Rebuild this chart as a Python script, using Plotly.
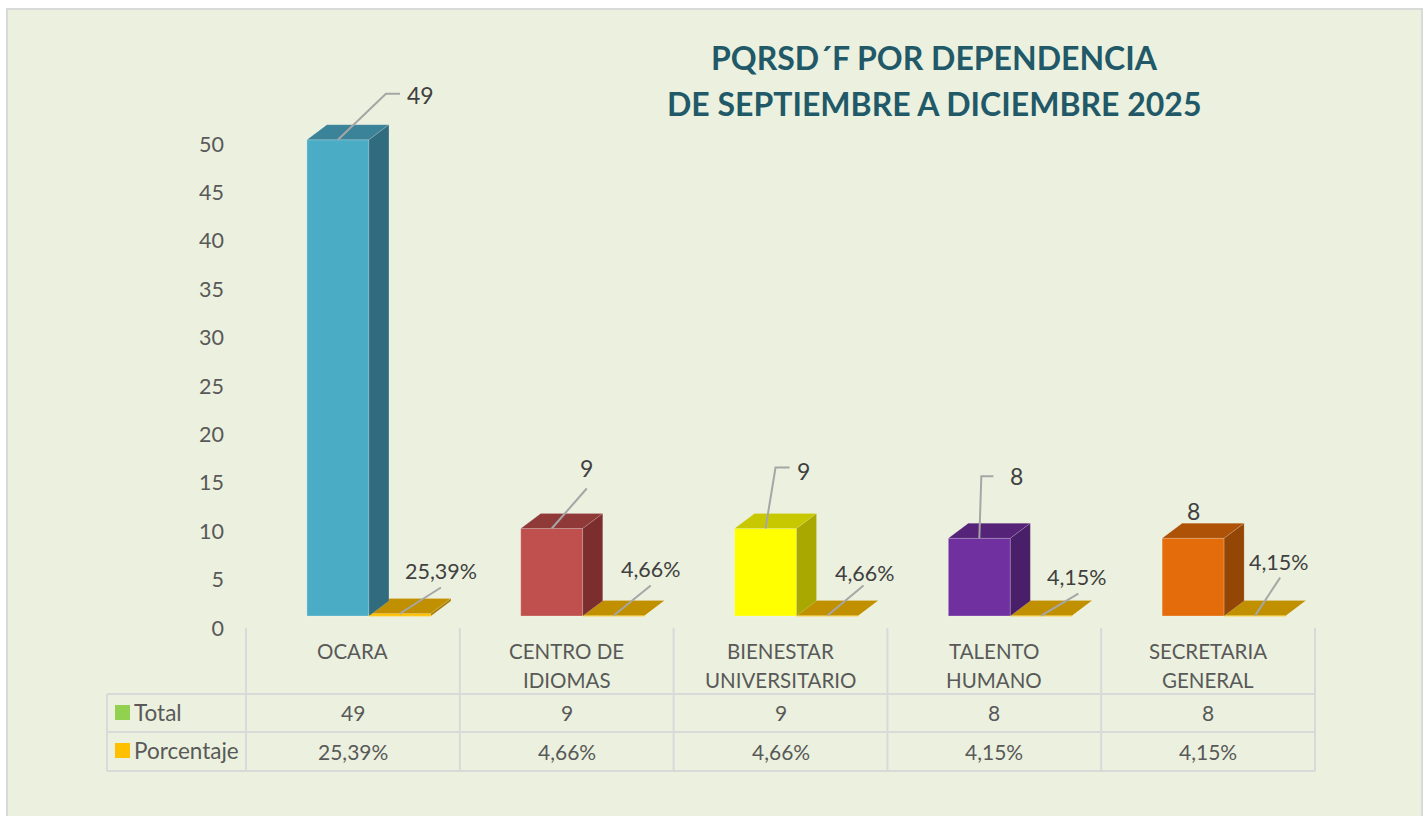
import plotly.graph_objects as go

# Data
categories = ['OCARA', 'CENTRO DE<br>IDIOMAS', 'BIENESTAR<br>UNIVERSITARIO', 'TALENTO<br>HUMANO', 'SECRETARIA<br>GENERAL']
total = [49, 9, 9, 8, 8]
porcentaje = [0.2539, 0.0466, 0.0466, 0.0415, 0.0415]
porcentaje_labels = ['25,39%', '4,66%', '4,66%', '4,15%', '4,15%']
y_ticks = [0, 5, 10, 15, 20, 25, 30, 35, 40, 45, 50]

# Colours: front, top, side
total_colors = [
    ('#4bacc6', '#3a8399', '#316b7e'),
    ('#c0504d', '#8f3a38', '#7b2e2d'),
    ('#ffff00', '#c8c800', '#a8a800'),
    ('#7030a0', '#552478', '#4a1f6a'),
    ('#e46c0a', '#ae5208', '#944606'),
]
gold = ('#ffc000', '#c09000', '#a57c00')

# Page geometry (pixels)
W, H = 1428, 816
CAT_W = 213.8     # pixels per category
X0 = 246          # left edge of first category
UNIT = 9.72       # pixels per value unit for the bars
BASE = 616        # pixel row of the bar base
DEPTH_X, DEPTH_Y = 20 / CAT_W, 15 / UNIT
BAR_W = 62 / CAT_W
TOTAL_OFF, PCT_OFF = 0.43, 0.72

TEXT = '#595959'
LABEL = '#404040'
GRID = '#d9d9d9'
LEADER = '#a6a6a6'
FONT = 'Lato'

# Data label placement, pixels from the top centre of each bar
total_label_shift = [(83, 45), (35, 61), (38, 58), (37, 62), (0, 27)]
pct_label_shift = [(41, 43), (37, 47), (37, 43), (36, 39), (24, 54)]
total_leaders = [[(0, 0), (48, 46), (62, 46)], [(0, 0), (35, 40)], [(0, 0), (10, 61), (24, 61)], [(0, 0), (2, 62), (14, 62)], []]
pct_leaders = [[(0, 0), (41, 26)], [(0, 0), (37, 30)], [(0, 0), (36, 30)], [(0, 0), (37, 22)], [(0, 0), (25, 38)]]

fig = go.Figure()


def add_poly(xs, ys, color):
    fig.add_trace(go.Scatter(x=xs, y=ys, mode='lines', fill='toself', fillcolor=color,
                             line=dict(color='rgba(255,255,255,0.15)', width=1),
                             hoverinfo='skip', showlegend=False))


def add_box_faces(left, value, colors):
    right = left + BAR_W
    add_poly([left, right, right + DEPTH_X, left + DEPTH_X, left],
             [value, value, value + DEPTH_Y, value + DEPTH_Y, value], colors[1])
    add_poly([right, right + DEPTH_X, right + DEPTH_X, right, right],
             [0, DEPTH_Y, value + DEPTH_Y, value, 0], colors[2])


def add_leader(x, y, points):
    if not points:
        return
    fig.add_trace(go.Scatter(x=[x + p[0] / CAT_W for p in points], y=[y + p[1] / UNIT for p in points],
                             mode='lines', line=dict(color=LEADER, width=2),
                             hoverinfo='skip', showlegend=False))


def add_text(x, y, text, size=21, color=TEXT, xanchor='center', xshift=0, yshift=0, bold=False, xref='x', yref='paper'):
    fig.add_annotation(x=x, y=y, text='<b>%s</b>' % text if bold else text, xref=xref, yref=yref,
                       showarrow=False, xanchor=xanchor, yanchor='middle', xshift=xshift, yshift=yshift,
                       font=dict(family=FONT, size=size, color=color))


def row(px):
    return 1 - px / H


# Front faces
fig.add_trace(go.Bar(x=[i + TOTAL_OFF for i in range(5)], y=total, width=BAR_W,
                     marker=dict(color=[c[0] for c in total_colors],
                                 line=dict(color='rgba(255,255,255,0.25)', width=1)),
                     hoverinfo='skip', showlegend=False))
fig.add_trace(go.Bar(x=[i + PCT_OFF for i in range(5)], y=porcentaje, width=BAR_W,
                     marker=dict(color=gold[0], line=dict(color='rgba(255,210,60,0.9)', width=1)),
                     hoverinfo='skip', showlegend=False))

# Top and side faces, small series first so the tall sides stay on top
for i, v in enumerate(porcentaje):
    add_box_faces(i + PCT_OFF - BAR_W / 2, v, gold)
for i, v in enumerate(total):
    add_box_faces(i + TOTAL_OFF - BAR_W / 2, v, total_colors[i])

# Leader lines and data labels
for i in range(5):
    add_leader(i + TOTAL_OFF, total[i], total_leaders[i])
    add_leader(i + PCT_OFF, porcentaje[i], pct_leaders[i])
    add_text(i + TOTAL_OFF, total[i], str(total[i]), size=23, color=LABEL, yref='y',
             xshift=total_label_shift[i][0], yshift=total_label_shift[i][1])
    add_text(i + PCT_OFF, porcentaje[i], porcentaje_labels[i], size=21.5, color=LABEL, yref='y',
             xshift=pct_label_shift[i][0], yshift=pct_label_shift[i][1])

# Invisible trace that keeps the value axis alive (labels sit lower than the bars' scale)
fig.add_trace(go.Scatter(x=[0, 0], y=[y_ticks[0], y_ticks[-1]], yaxis='y2', mode='lines',
                         line=dict(color='rgba(0,0,0,0)'), hoverinfo='skip', showlegend=False))

# Data table under the chart
for i in range(6):
    fig.add_shape(type='line', xref='x', yref='paper', x0=i, x1=i, y0=row(628), y1=row(771),
                  line=dict(color=GRID, width=2))
for px in (694, 732, 771):
    fig.add_shape(type='line', xref='paper', yref='paper', x0=107 / W, x1=1315 / W, y0=row(px), y1=row(px),
                  line=dict(color=GRID, width=2))
fig.add_shape(type='line', xref='paper', yref='paper', x0=107 / W, x1=107 / W, y0=row(694), y1=row(771),
              line=dict(color=GRID, width=2))

for i, cat in enumerate(categories):
    lines = cat.split('<br>')
    for j, line in enumerate(lines):
        add_text(i + 0.5, row(650.5 + 29 * j), line, size=20.5)
    add_text(i + 0.5, row(712.5), str(total[i]))
    add_text(i + 0.5, row(751.5), porcentaje_labels[i])

# Legend keys in the first table column
for px, color, name in ((713, '#92d050', 'Total'), (751, '#ffc000', 'Porcentaje')):
    fig.add_shape(type='rect', xref='paper', yref='paper', x0=115 / W, x1=130 / W, y0=row(px + 7), y1=row(px - 8),
                  fillcolor=color, line=dict(width=0))
    add_text(132 / W, row(px - 1), name, size=22.5, xanchor='left', xref='paper')

# Title
add_text(934 / W, row(57.5), 'PQRSD´F POR DEPENDENCIA', size=32, color='#215968', bold=True, xref='paper')
add_text(934 / W, row(103.5), 'DE SEPTIEMBRE A DICIEMBRE 2025', size=32, color='#215968', bold=True, xref='paper')

# Chart panel
fig.add_shape(type='rect', xref='paper', yref='paper', layer='below', x0=7 / W, x1=1422 / W, y0=-0.01, y1=row(9),
              fillcolor='#ebf1de', line=dict(color=GRID, width=2))

fig.update_layout(
    width=W, height=H,
    margin=dict(l=0, r=0, t=0, b=0, pad=0),
    paper_bgcolor='white', plot_bgcolor='rgba(0,0,0,0)',
    barmode='overlay',
    xaxis=dict(range=[-X0 / CAT_W, (W - X0) / CAT_W], domain=[0, 1], visible=False, fixedrange=True),
    yaxis=dict(range=[(BASE - H) / UNIT, BASE / UNIT], domain=[0, 1], visible=False, fixedrange=True),
    yaxis2=dict(range=[(628 - H) / 9.68, 628 / 9.68], overlaying='y', anchor='free', position=224 / W,
                side='left', tickmode='array', tickvals=y_ticks, showgrid=False, zeroline=False,
                showline=False, ticks='', fixedrange=True,
                tickfont=dict(family=FONT, size=21.5, color=TEXT)),
)

fig.write_html('out.html', post_script="document.body.style.margin='0';", config=dict(displayModeBar=False))
